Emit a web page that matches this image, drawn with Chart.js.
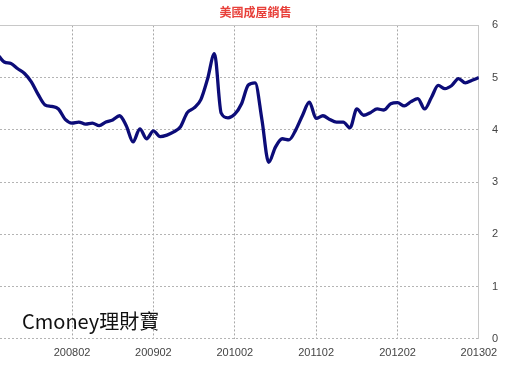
<!DOCTYPE html>
<html>
<head>
<meta charset="utf-8">
<script src="https://cdn.jsdelivr.net/npm/chart.js@4"></script>
<style>
  body { margin: 0; background: #fff; }
  #wrap { position: relative; width: 508px; height: 365px; }
  #mark {
    position: absolute; left: 22px; top: 306px;
    font-family: "Noto Sans CJK TC", "Noto Sans", sans-serif;
    font-size: 20px; color: #111; white-space: nowrap;
  }
</style>
</head>
<body>
<div id="wrap">
  <canvas id="chart"></canvas>
  <div id="mark">Cmoney理財寶</div>
</div>
<script>
// monthly, 200703 .. 201302
const startYear = 2007;
const startMonth = 3;
const sales = [
    5.45, 5.30, 5.27, 5.17, 5.08, 4.92, 4.68, 4.48, 4.45, 4.40, 4.20, 4.13,
    4.15, 4.11, 4.13, 4.08, 4.15, 4.19, 4.27, 4.08, 3.77, 4.02, 3.83, 3.98,
    3.87, 3.90, 3.96, 4.06, 4.33, 4.42, 4.58, 4.98, 5.46, 4.32, 4.23, 4.30,
    4.50, 4.86, 4.90, 4.20, 3.38, 3.67, 3.83, 3.81, 4.00, 4.28, 4.53, 4.22,
    4.27, 4.20, 4.15, 4.15, 4.04, 4.40, 4.28, 4.33, 4.40, 4.38, 4.50, 4.52,
    4.46, 4.54, 4.60, 4.40, 4.62, 4.85, 4.79, 4.85, 4.98, 4.90, 4.95, 5.00
];
const tickLabels = ["200802", "200902", "201002", "201102", "201202", "201302"];
const yTicks = [0, 1, 2, 3, 4, 5, 6];

function monthLabel(i) {
    const m = startMonth - 1 + i;
    const y = startYear + Math.floor(m / 12);
    const mm = (m % 12) + 1;
    return String(y) + (mm < 10 ? "0" + mm : mm);
}

const points = sales.map((v, i) => ({ x: i, y: v }));
const tickIdx = [];
for (let i = 0; i < sales.length; i++) {
    if (tickLabels.includes(monthLabel(i))) tickIdx.push(i);
}

new Chart(document.getElementById("chart"), {
    type: 'line',
    data: {
        datasets: [{
            data: points,
            borderColor: '#0c0c78',
            borderWidth: 3.3,
            pointRadius: 0,
            tension: 0.4,
            cubicInterpolationMode: 'monotone',
            fill: false
        }]
    },
    options: {
        responsive: true,
        maintainAspectRatio: false,
        animation: false,
        layout: { padding: { left: 0, right: -3, bottom: -3 } },
        plugins: {
            legend: { display: false },
            tooltip: { enabled: false },
            title: {
                display: true,
                text: '美國成屋銷售',
                color: '#e8403a',
                font: { family: '"Noto Sans CJK TC", sans-serif', size: 12, weight: 'bold' },
                padding: { top: 5, bottom: 6 }
            }
        },
        scales: {
            x: {
                type: 'linear',
                min: 0.38,
                max: sales.length - 1,
                afterBuildTicks: (scale) => {
                    scale.ticks = tickIdx.map(v => ({ value: v }));
                },
                ticks: {
                    autoSkip: false,
                    maxRotation: 0,
                    color: '#444',
                    padding: 8,
                    font: { family: '"Liberation Sans", Arial, sans-serif', size: 11 },
                    callback: (v) => monthLabel(v)
                },
                grid: { color: '#a8a8a8', lineWidth: 1, drawTicks: false },
                border: { display: false, dash: [2, 2] }
            },
            y: {
                position: 'right',
                min: 0,
                max: 6,
                afterBuildTicks: (scale) => {
                    scale.ticks = yTicks.map(v => ({ value: v }));
                },
                ticks: {
                    color: '#444',
                    padding: 13,
                    font: { family: '"Liberation Sans", Arial, sans-serif', size: 11 }
                },
                grid: { color: (c) => c.tick && c.tick.value === 6 ? '#c8c8c8' : '#b4b4b4', lineWidth: 1, drawTicks: false },
                border: {
                    display: true,
                    color: '#c8c8c8',
                    dash: (c) => c.tick && c.tick.value === 6 ? [] : [2, 2]
                }
            }
        }
    }
});
</script>
</body>
</html>
